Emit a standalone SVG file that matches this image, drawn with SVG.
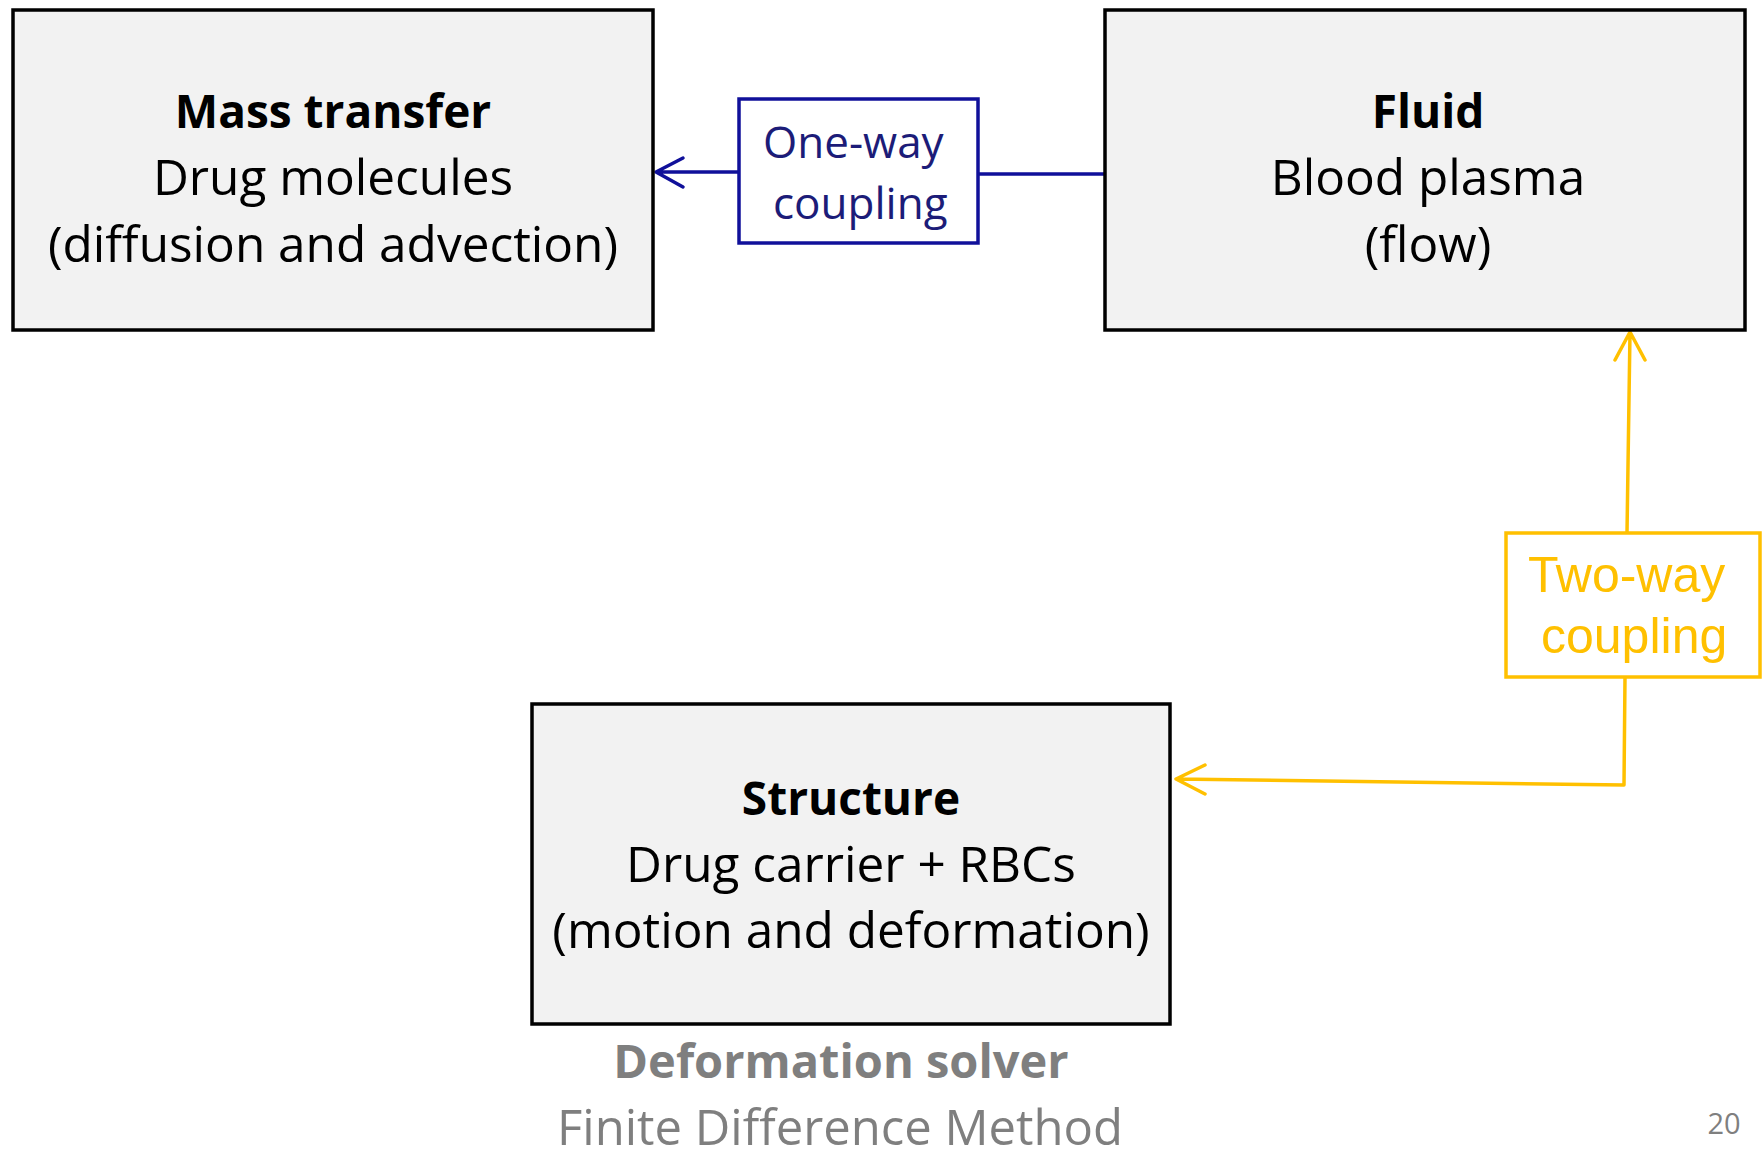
<svg xmlns="http://www.w3.org/2000/svg" width="1762" height="1160" viewBox="0 0 1762 1160">
<style>
.box{fill:#f2f2f2;stroke:#000;stroke-width:3.5}
.t{font-family:"Open Sans","Liberation Sans",sans-serif;font-size:49.5px;fill:#000;text-anchor:middle}
.b{font-weight:bold;font-size:46px}
.blue{fill:#fff;stroke:#10109a;stroke-width:3.5}
.bl{fill:none;stroke:#10109a;stroke-width:3.5;stroke-linecap:round;stroke-linejoin:round}
.bt{font-family:"Open Sans","Liberation Sans",sans-serif;font-size:44px;fill:#1c1c78}
.yel{fill:#fff;stroke:#ffc000;stroke-width:3.5}
.yl{fill:none;stroke:#ffc000;stroke-width:3.5;stroke-linecap:round;stroke-linejoin:round}
.yt{font-family:"Liberation Sans",Arial,sans-serif;font-size:50px;fill:#ffc000}
.g{font-family:"Open Sans","Liberation Sans",sans-serif;fill:#7f7f7f;text-anchor:middle}
</style>
<rect width="1762" height="1160" fill="#fff"/>
<g id="connectors">
<path class="bl" d="M739 172 L656 172 M683 158 L656 172 L683 187"/>
<path class="bl" d="M978 174 L1104 174"/>
<path class="yl" d="M1627 533 L1630 332 M1615 360 L1630 332 L1645 360"/>
<path class="yl" d="M1625 677 L1624 785 L1176 779 M1205 765 L1176 779 L1205 794"/>
</g>
<g id="mass-transfer">
<rect class="box" x="13" y="10" width="640" height="320"/>
<text class="t b" x="333" y="128">Mass transfer</text>
<text class="t" x="333" y="195">Drug molecules</text>
<text class="t" x="333" y="262">(diffusion and advection)</text>
</g>
<g id="fluid">
<rect class="box" x="1105" y="10" width="640" height="320"/>
<text class="t b" x="1428" y="128">Fluid</text>
<text class="t" x="1428" y="195">Blood plasma</text>
<text class="t" x="1428" y="262">(flow)</text>
</g>
<g id="structure">
<rect class="box" x="532" y="704" width="638" height="320"/>
<text class="t b" x="851" y="815">Structure</text>
<text class="t" x="851" y="882">Drug carrier + RBCs</text>
<text class="t" x="851" y="948">(motion and deformation)</text>
</g>
<g id="one-way">
<rect class="blue" x="739" y="99" width="239" height="144"/>
<text class="bt" x="763" y="158">One-way</text>
<text class="bt" x="773" y="219">coupling</text>
</g>
<g id="two-way">
<rect class="yel" x="1506" y="533" width="254" height="144"/>
<text class="yt" x="1528" y="592">Two-way</text>
<text class="yt" x="1541" y="653">coupling</text>
</g>
<g id="solver-label">
<text class="g" x="841" y="1078" font-size="47" font-weight="bold">Deformation solver</text>
<text class="g" x="840" y="1145" font-size="49">Finite Difference Method</text>
</g>
<text class="g" x="1724" y="1134" font-size="29" fill="#8c8c8c">20</text>
</svg>
